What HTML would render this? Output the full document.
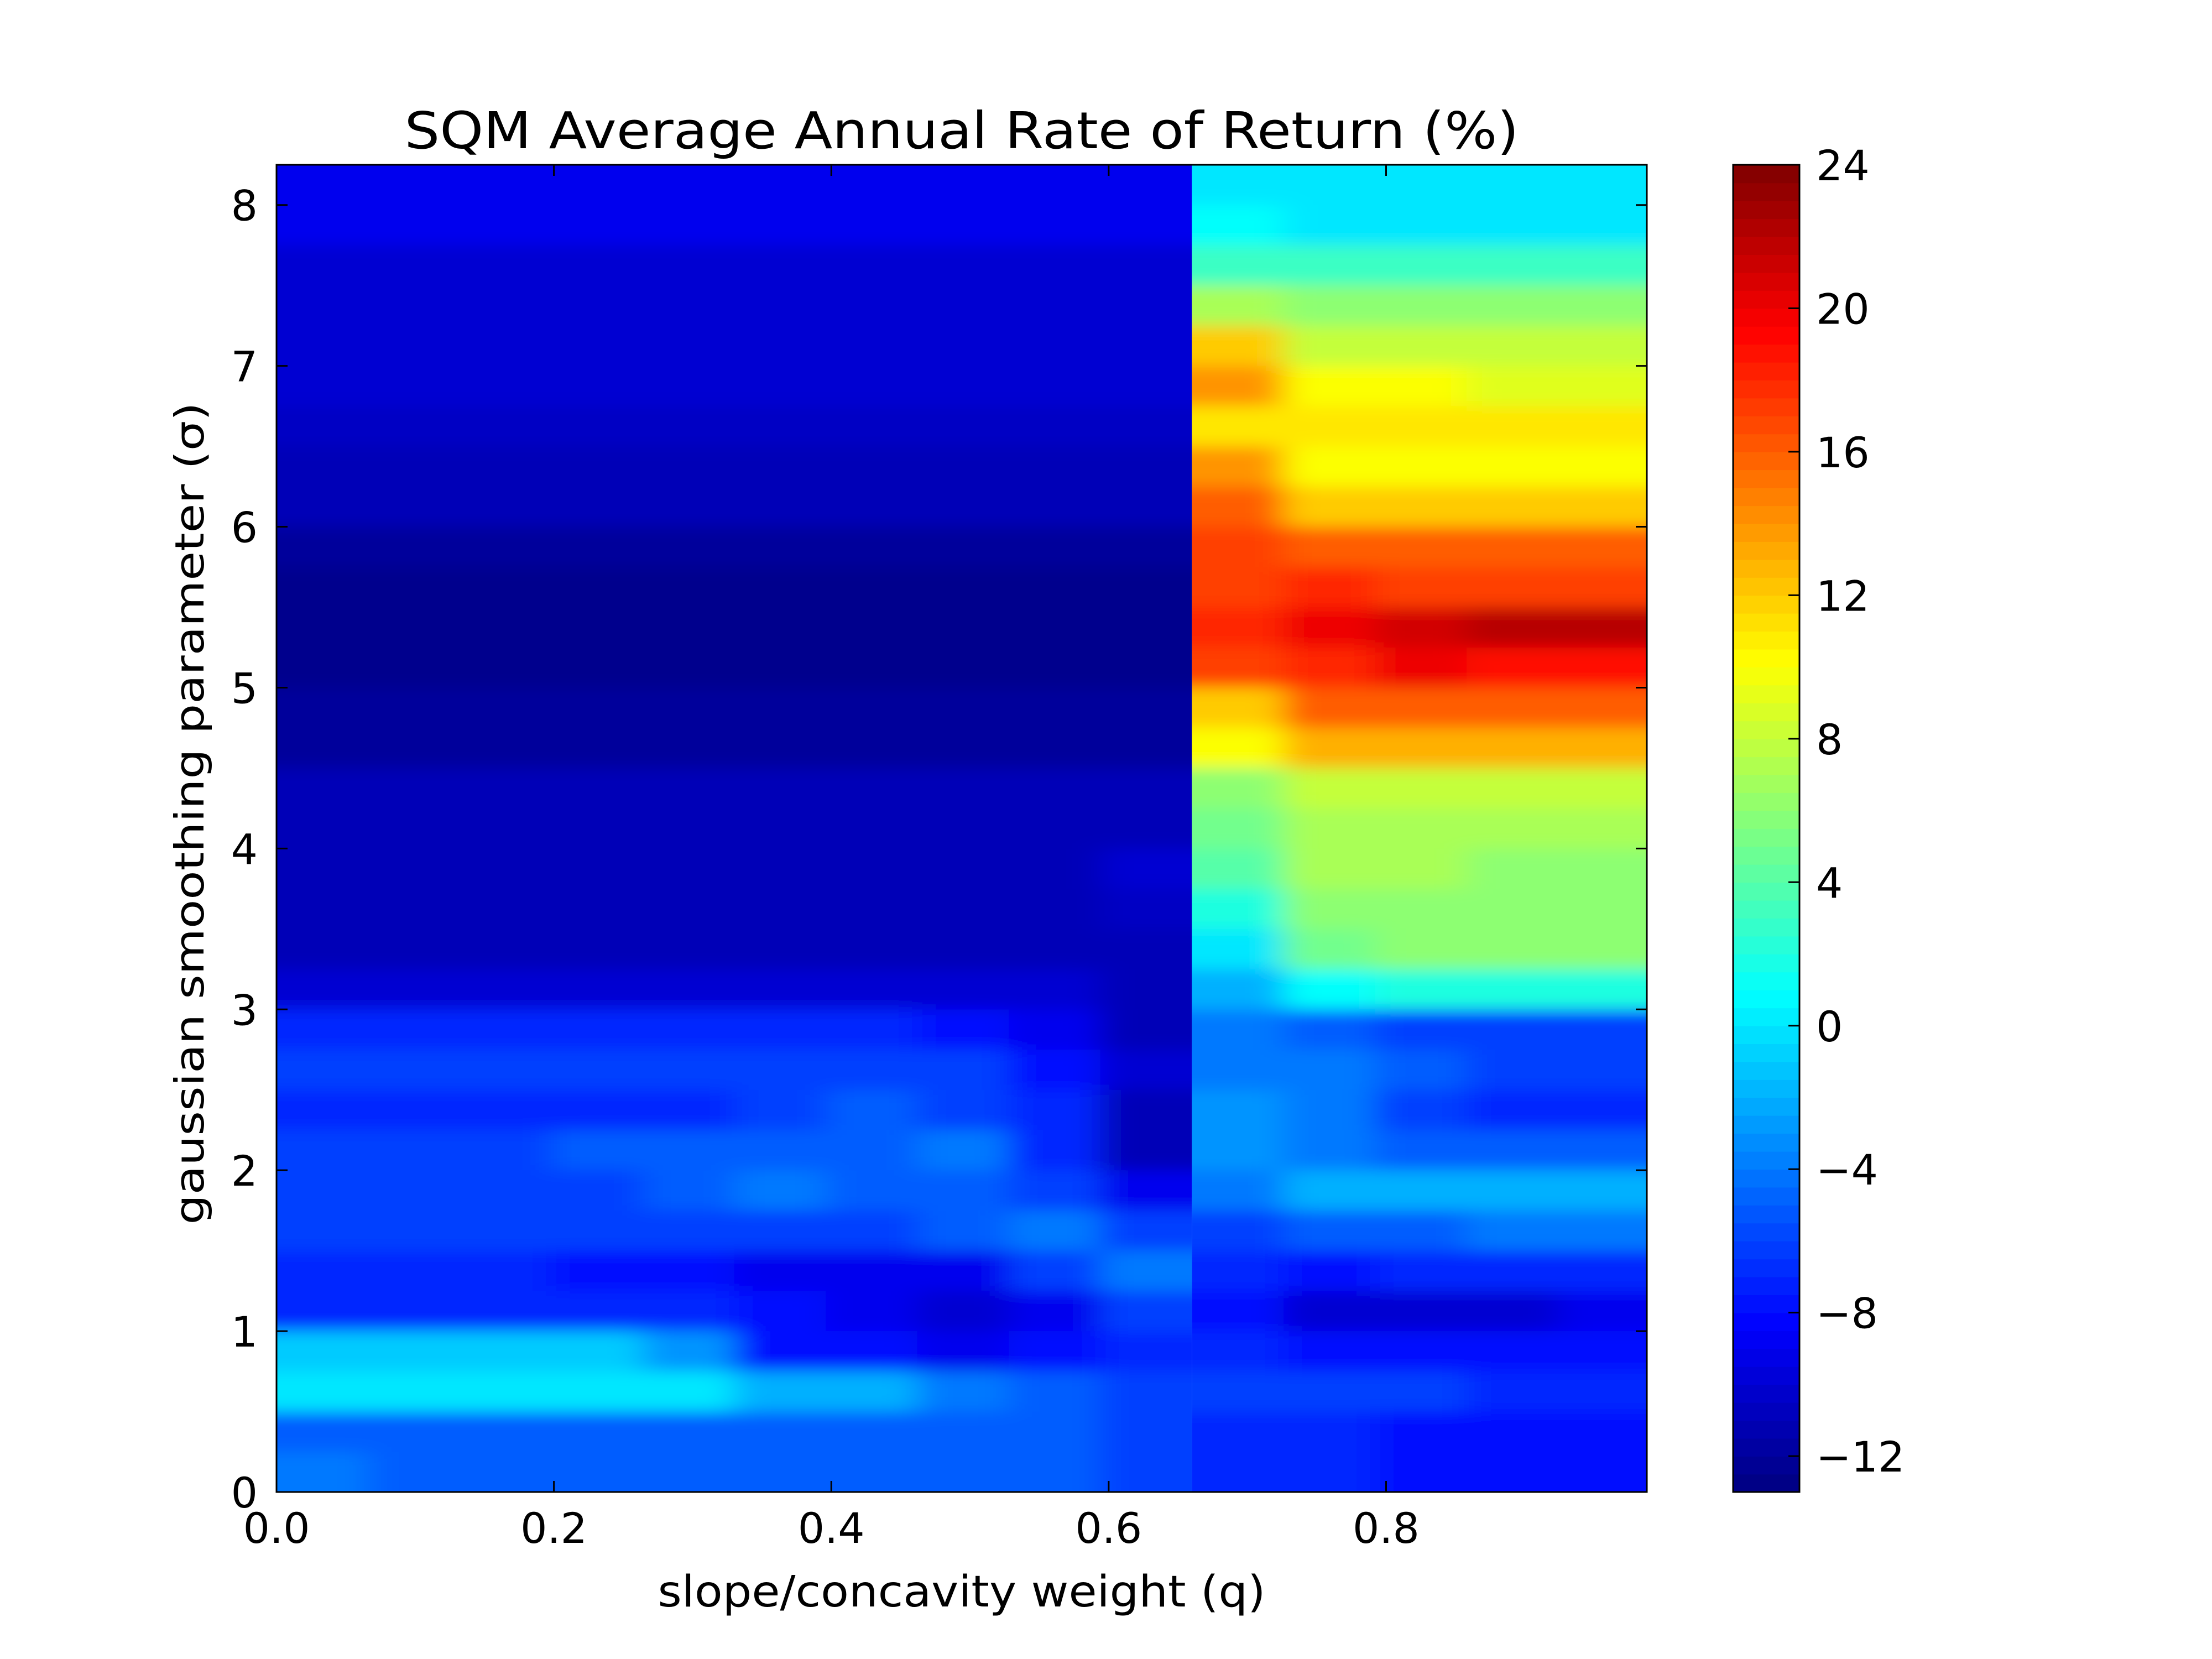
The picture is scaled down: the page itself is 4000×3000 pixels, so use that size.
<!DOCTYPE html>
<html><head><meta charset="utf-8">
<style>
html,body{margin:0;padding:0;background:#fff;}
svg{display:block;font-family:"DejaVu Sans","Liberation Sans",sans-serif;}
</style></head>
<body>
<svg id="chart" width="4000" height="3000" viewBox="0 0 4000 3000" xmlns="http://www.w3.org/2000/svg">
<defs>
<clipPath id="clipL" clipPathUnits="userSpaceOnUse"><rect id="clipLRect" x="0" y="0" width="0" height="0"/></clipPath>
<clipPath id="clipR" clipPathUnits="userSpaceOnUse"><rect id="clipRRect" x="0" y="0" width="0" height="0"/></clipPath>
<filter id="blur" filterUnits="userSpaceOnUse" x="0" y="0" width="4000" height="3000"><feGaussianBlur stdDeviation="30 14"/></filter>
</defs>
<rect width="4000" height="3000" fill="#fff"/>
<text x="1739" y="268" font-size="92" text-anchor="middle" textLength="2015" lengthAdjust="spacingAndGlyphs">SQM Average Annual Rate of Return (%)</text>
<g id="plot"></g>
<g id="cbar"></g>
<text x="1739" y="2905" font-size="78" text-anchor="middle" textLength="1099" lengthAdjust="spacingAndGlyphs">slope/concavity weight (q)</text>
<text transform="translate(368,1471) rotate(-90)" font-size="72" text-anchor="middle" textLength="1487" lengthAdjust="spacingAndGlyphs">gaussian smoothing parameter (σ)</text>
</svg>
<script>
const qEdges = [0,0.066,0.132,0.198,0.264,0.33,0.396,0.462,0.528,0.594,0.66,0.726,0.792,0.858,0.924,0.988];
const sigmaTops = [8.25,8.0,7.75,7.5,7.25,7.0,6.75,6.5,6.25,6.0,5.75,5.5,5.25,5.0,4.75,4.5,4.25,4.0,3.75,3.5,3.25,3.0,2.75,2.5,2.25,2.0,1.75,1.5,1.25,1.0,0.75,0.5,0.25];
const z = [
[-9,-9,-9,-9,-9,-9,-9,-9,-9,-9, 0,0,0,0,0],
[-9,-9,-9,-9,-9,-9,-9,-9,-9,-9, 1,0,0,0,0],
[-10,-10,-10,-10,-10,-10,-10,-10,-10,-10, 3,3,3,3,3],
[-10,-10,-10,-10,-10,-10,-10,-10,-10,-10, 7,6,6,6,6],
[-10,-10,-10,-10,-10,-10,-10,-10,-10,-10, 12,8,8,8,8],
[-10,-10,-10,-10,-10,-10,-10,-10,-10,-10, 14,10,10,9,9],
[-10.5,-10.5,-10.5,-10.5,-10.5,-10.5,-10.5,-10.5,-10.5,-10.5, 11,11,11,11,11],
[-11,-11,-11,-11,-11,-11,-11,-11,-11,-11, 14,10,10,10,10],
[-11,-11,-11,-11,-11,-11,-11,-11,-11,-11, 16,12,12,12,12],
[-12,-12,-12,-12,-12,-12,-12,-12,-12,-12, 17,16,16,16,16],
[-12.5,-12.5,-12.5,-12.5,-12.5,-12.5,-12.5,-12.5,-12.5,-12.5, 17,18,17,17,17],
[-12.5,-12.5,-12.5,-12.5,-12.5,-12.5,-12.5,-12.5,-12.5,-12.5, 18,20,21,22,22],
[-12.5,-12.5,-12.5,-12.5,-12.5,-12.5,-12.5,-12.5,-12.5,-12.5, 17,18,20,19,19],
[-12,-12,-12,-12,-12,-12,-12,-12,-12,-12, 12,16,16,16,16],
[-12,-12,-12,-12,-12,-12,-12,-12,-12,-12, 10,13,13,13,13],
[-11,-11,-11,-11,-11,-11,-11,-11,-11,-11, 6,8,8,8,8],
[-11,-11,-11,-11,-11,-11,-11,-11,-11,-11, 5,7,7,7,7],
[-11,-11,-11,-11,-11,-11,-11,-11,-11,-10, 4,7,7,6,6],
[-11,-11,-11,-11,-11,-11,-11,-11,-11,-10.5, 2,6,6,6,6],
[-11,-11,-11,-11,-11,-11,-11,-11,-11,-11, 0,5,6,6,6],
[-10,-10,-10,-10,-10,-10,-10,-10,-10,-11, -2,1,2,2,2],
[-7,-7,-7,-7,-7,-7,-7,-8,-9,-11, -4,-5,-6,-6,-6],
[-6,-6,-6,-6,-6,-6,-6,-6,-8,-10, -4,-4,-5,-6,-6],
[-7,-7,-7,-7,-7,-6,-5,-6,-7,-11, -3,-4,-6,-7,-7],
[-6,-6,-6,-5,-5,-5,-5,-4,-7,-11, -3,-4,-5,-5,-5],
[-6,-6,-6,-6,-5,-4,-5,-5,-6,-9, -4,-2,-2,-2,-2],
[-6,-6,-6,-6,-6,-6,-6,-5,-4,-6, -6,-5,-5,-4,-4],
[-7,-7,-7,-8,-8,-9,-9,-9,-6,-4, -7,-8,-7,-7,-7],
[-7,-7,-7,-7,-7,-8,-9,-10,-9,-6, -8,-10,-10,-10,-9],
[-1,-1,-1,-1,-3,-8,-8,-9,-8,-7, -7,-8,-8,-8,-8],
[0,0,0,0,0,-2,-2,-4,-5,-6, -6,-6,-6,-7,-7],
[-5,-5,-5,-5,-5,-5,-5,-5,-5,-6, -7,-7,-8,-8,-8],
[-4,-5,-5,-5,-5,-5,-5,-5,-5,-6, -7,-7,-8,-8,-8]
];
const xTicks = [0.0,0.2,0.4,0.6,0.8];
const xTickLabels = ["0.0","0.2","0.4","0.6","0.8"];
const yTicks = [0,1,2,3,4,5,6,7,8];
const cbTicks = [-12,-8,-4,0,4,8,12,16,20,24];
const cbTickLabels = ["\u221212","\u22128","\u22124","0","4","8","12","16","20","24"];
const vmin = -13, vmax = 24;

const NS="http://www.w3.org/2000/svg";
const L=500,R=2978,T=298,B=2698;
const xMax=0.988,yMax=8.25;
const xs=q=>L+(q/xMax)*(R-L);
const ys=s=>B-(s/yMax)*(B-T);
const CBL=3134,CBR=3254;
const cs=v=>B-(v-vmin)/(vmax-vmin)*(B-T);
function jet(v){
  let t=(v-vmin)/(vmax-vmin); t=Math.max(0,Math.min(1,t));
  const f=x=>Math.max(0,Math.min(1,x));
  const r=f(1.5-Math.abs(4*t-3)), g=f(1.5-Math.abs(4*t-2)), b=f(1.5-Math.abs(4*t-1));
  return `rgb(${Math.round(r*255)},${Math.round(g*255)},${Math.round(b*255)})`;
}
function mk(tag,attrs,parent){const e=document.createElementNS(NS,tag);for(const k in attrs)e.setAttribute(k,attrs[k]);parent.appendChild(e);return e;}
const splitQ = qEdges[10];
const xSplit = xs(splitQ);
const cl=document.getElementById('clipLRect');
cl.setAttribute('x',L);cl.setAttribute('y',T);cl.setAttribute('width',xSplit-L);cl.setAttribute('height',B-T);
const cr=document.getElementById('clipRRect');
cr.setAttribute('x',xSplit);cr.setAttribute('y',T);cr.setAttribute('width',R-xSplit);cr.setAttribute('height',B-T);

const plot=document.getElementById('plot');
const clipL=mk('g',{'clip-path':'url(#clipL)'},plot);
const clipR=mk('g',{'clip-path':'url(#clipR)'},plot);
const cellsL=mk('g',{filter:'url(#blur)'},clipL);
const cellsR=mk('g',{filter:'url(#blur)'},clipR);




const nR=z.length, nC=qEdges.length-1;
for(let i=0;i<nR;i++){
  const top=sigmaTops[i], bot=top-0.25;
  for(let j=0;j<nC;j++){
    let x0=xs(qEdges[j]),x1=xs(qEdges[j+1]);
    let y0=ys(top),y1=ys(bot);
    if(j===0||j===10) x0-=150;
    if(j===9||j===nC-1) x1+=150;
    if(i===0) y0-=150;
    if(i===nR-1) y1+=150;
    const par = j<10 ? cellsL : cellsR;
    const c=mk('rect',{x:x0,y:y0,width:x1-x0+0.8,height:y1-y0+0.8,fill:jet(z[i][j])},par);
    
    
  }
}
const frame=mk('rect',{x:L,y:T,width:R-L,height:B-T,fill:'none',stroke:'#000','stroke-width':3},plot);


xTicks.forEach((v,i)=>{
  const x=xs(v);
  mk('line',{x1:x,x2:x,y1:B,y2:B-20,stroke:'#000','stroke-width':3},plot);
  mk('line',{x1:x,x2:x,y1:T,y2:T+20,stroke:'#000','stroke-width':3},plot);
  const t=mk('text',{x:x,y:B+92,'font-size':76,'text-anchor':'middle'},plot);
  t.textContent=xTickLabels[i];
  
  
});
yTicks.forEach(v=>{
  const y=ys(v);
  mk('line',{x1:L,x2:L+20,y1:y,y2:y,stroke:'#000','stroke-width':3},plot);
  mk('line',{x1:R,x2:R-20,y1:y,y2:y,stroke:'#000','stroke-width':3},plot);
  const t=mk('text',{x:L-34,y:y+28,'font-size':76,'text-anchor':'end'},plot);
  t.textContent=String(v);
  
  
});
const cb=document.getElementById('cbar');


const steps=74;
for(let k=0;k<steps;k++){
  const v0=vmin+(vmax-vmin)*k/steps, v1=vmin+(vmax-vmin)*(k+1)/steps;
  mk('rect',{x:CBL,y:cs(v1),width:CBR-CBL,height:cs(v0)-cs(v1)+0.8,fill:jet((v0+v1)/2)},cb);
}
mk('rect',{x:CBL,y:T,width:CBR-CBL,height:B-T,fill:'none',stroke:'#000','stroke-width':3},cb);
cbTicks.forEach((v,i)=>{
  const y=cs(v);
  mk('line',{x1:CBR,x2:CBR-20,y1:y,y2:y,stroke:'#000','stroke-width':3},cb);
  const t=mk('text',{x:CBR+30,y:y+28,'font-size':76},cb);
  t.textContent=cbTickLabels[i];
  
  
});
</script>
</body></html>
